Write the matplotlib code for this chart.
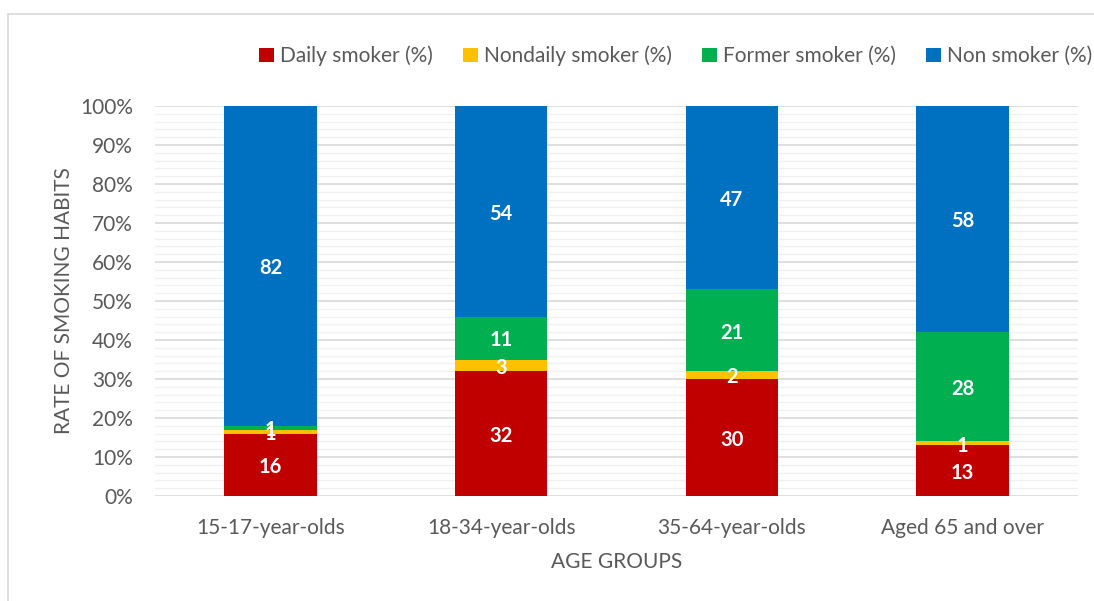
import numpy as np
import matplotlib.pyplot as plt
from matplotlib.patches import Patch
from matplotlib.lines import Line2D

groups = ['15-17-year-olds', '18-34-year-olds', '35-64-year-olds', 'Aged 65 and over']
daily = [16, 32, 30, 13]
nondaily = [1, 3, 2, 1]
former = [1, 11, 21, 28]
non = [82, 54, 47, 58]

series = [daily, nondaily, former, non]
names = ['Daily smoker (%)', 'Nondaily smoker (%)', 'Former smoker (%)', 'Non smoker (%)']
colors = ['#c00000', '#ffc000', '#00b050', '#0070c0']

plt.rcParams['font.family'] = ['Lato', 'DejaVu Sans']

fig = plt.figure(figsize=(10.94, 6.01), dpi=100)
ax = fig.add_axes([155 / 1094, 105 / 601, 923 / 1094, 390 / 601])

x = np.arange(len(groups))
bottom = np.zeros(len(groups))
for vals, name, c in zip(series, names, colors):
    vals = np.array(vals, dtype=float)
    ax.bar(x, vals, 0.4, bottom=bottom, color=c, label=name, zorder=3)
    for xi, b, v in zip(x, bottom, vals):
        ax.text(xi, b + v / 2 - 0.6, '%d' % v, ha='center', va='center', color='white',
                fontsize=14.5, fontweight='bold', zorder=4)
    bottom += vals

ax.set_xlim(-0.5, 3.5)
ax.set_ylim(0, 100)
ax.set_yticks(np.arange(0, 101, 10))
ax.set_yticklabels(['%d%%' % v for v in range(0, 101, 10)])
ax.set_yticks(np.arange(0, 101, 2), minor=True)
ax.set_xticks(x)
ax.set_xticklabels(groups)
ax.tick_params(axis='both', which='both', length=0, labelsize=15, colors='#595959')
ax.tick_params(axis='x', pad=16)
ax.tick_params(axis='y', pad=16)
ax.grid(axis='y', which='major', color='#d9d9d9', linewidth=1.2, zorder=0)
ax.grid(axis='y', which='minor', color='#f0f0f0', linewidth=1.0, zorder=0)
for s in ax.spines.values():
    s.set_visible(False)

ax.set_xlabel('AGE GROUPS', fontsize=15, color='#595959', labelpad=10)
ax.set_ylabel('RATE OF SMOKING HABITS', fontsize=15, color='#595959', labelpad=4)

handles = [Patch(facecolor=c) for c in colors]
fig.legend(handles, names, loc='center left', bbox_to_anchor=(251 / 1094, 1 - 56 / 601),
           ncol=4, frameon=False, fontsize=15, handlelength=0.7, handleheight=0.7,
           handletextpad=0.3, columnspacing=1.45, labelcolor='#595959', borderaxespad=0)

# chart border (cropped on the right and bottom)
fig.add_artist(Line2D([8 / 1094, 8 / 1094], [0, 1 - 14 / 601], color='#d9d9d9', lw=1.2))
fig.add_artist(Line2D([8 / 1094, 1], [1 - 14 / 601, 1 - 14 / 601], color='#d9d9d9', lw=1.2))

fig.savefig('out.png', dpi=100)
